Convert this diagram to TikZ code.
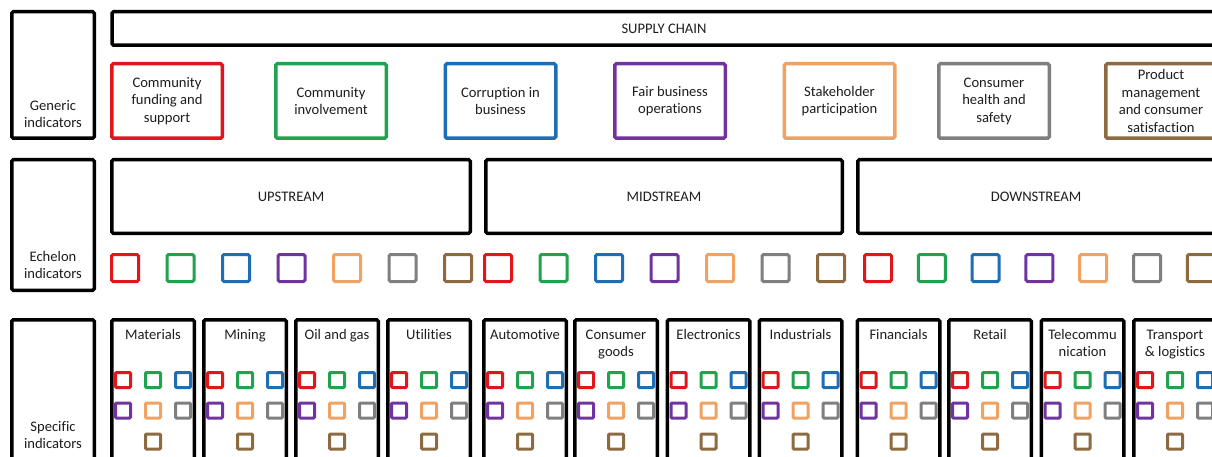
\documentclass[tikz,border=0pt]{standalone}
\usepackage{fontspec}
\setmainfont[Ligatures=NoCommon]{Carlito}
\definecolor{cred}{HTML}{E0161B}
\definecolor{cgreen}{HTML}{20A24E}
\definecolor{cblue}{HTML}{1E6EB6}
\definecolor{cpurple}{HTML}{7033A0}
\definecolor{corange}{HTML}{F0A262}
\definecolor{cgray}{HTML}{7F7F7F}
\definecolor{cbrown}{HTML}{8D6A40}
\definecolor{ctext}{HTML}{1E1E1E}
\begin{document}
\begin{tikzpicture}[x=1pt,y=-1pt,
  every node/.style={font=\fontsize{14.6}{17.5}\selectfont, align=center, inner sep=0pt, outer sep=0pt, text=ctext},
  blk/.style={draw=black, line width=3.5pt, rounded corners=1.5pt},
  genbx/.style={draw=#1, line width=3.5pt, rounded corners=1.5pt, minimum width=110.5pt, minimum height=74.5pt},
  esq/.style={draw=#1, line width=3pt, rounded corners=1.5pt, minimum size=27pt},
  ssq/.style={draw=#1, line width=3pt, rounded corners=1pt, minimum size=15pt},
  secbx/.style={blk, minimum width=82.5pt, minimum height=142.5pt},
  ttl/.style={anchor=north},
  lbl/.style={anchor=south}
]
\useasboundingbox (0,0) rectangle (1212,457);
\clip (0,0) rectangle (1212,457);
\fill[white] (0,0) rectangle (1212,457);

% left label boxes
\node[blk, minimum width=82.5pt, minimum height=126.5pt] (genL) at (53,75) {};
\node[lbl] (genT) at (53,128) {Generic\\indicators};
\node[blk, minimum width=82.5pt, minimum height=130.5pt] (echL) at (53,225) {};
\node[lbl] (echT) at (53,279) {Echelon\\indicators};
\node[blk, minimum width=82.5pt, minimum height=142.5pt] (speL) at (53,391) {};
\node[lbl] (speT) at (53,449) {Specific\\indicators};

% supply chain
\node[blk, minimum width=1104pt, minimum height=33.5pt] (sc) at (664,28.5) {SUPPLY CHAIN};

% generic indicators
\node[genbx=cred]    (g1) at (167,101)    {Community\\funding and\\support};
\node[genbx=cgreen]  (g2) at (331,101)    {Community\\involvement};
\node[genbx=cblue]   (g3) at (500.5,101)  {Corruption in\\business};
\node[genbx=cpurple] (g4) at (670,101)    {Fair business\\operations};
\node[genbx=corange] (g5) at (839.5,101)  {Stakeholder\\participation};
\node[genbx=cgray]   (g6) at (994,101)    {Consumer\\health and\\safety};
\node[genbx=cbrown]  (g7) at (1161,101)   {Product\\management\\and consumer\\satisfaction};

% echelons
\node[blk, minimum width=358.5pt, minimum height=73.5pt] (up) at (291,196.5) {UPSTREAM};
\node[blk, minimum width=356.5pt, minimum height=73.5pt] (mid) at (664,196.5) {MIDSTREAM};
\node[blk, minimum width=356.5pt, minimum height=73.5pt] (down) at (1036,196.5) {DOWNSTREAM};

\foreach \c [count=\i from 0] in {cred,cgreen,cblue,cpurple,corange,cgray,cbrown} {
  \node[esq=\c] (eu\i) at ({125+55.5*\i},268) {};
  \node[esq=\c] (em\i) at ({498+55.5*\i},268) {};
  \node[esq=\c] (ed\i) at ({878+53.8*\i},268) {};
}

% specific sectors
\foreach \x/\t [count=\i] in {153/Materials, 245/Mining, 337/Oil and gas, 429/Utilities,
   525/Automotive, 616/{Consumer\\goods}, 708.5/Electronics, 800.5/Industrials,
   898.5/Financials, 990/Retail, 1082.5/{Telecommu\\nication}, 1175/{Transport\\\& logistics}} {
  \node[secbx] (s\i) at (\x,391) {};
  \node[ttl] (t\i) at (\x,326.8) {\strut\t};
  \node[ssq=cred]    (s\i-1) at ({\x-30},380) {};
  \node[ssq=cgreen]  (s\i-2) at (\x,380) {};
  \node[ssq=cblue]   (s\i-3) at ({\x+30},380) {};
  \node[ssq=cpurple] (s\i-4) at ({\x-30},410.5) {};
  \node[ssq=corange] (s\i-5) at (\x,410.5) {};
  \node[ssq=cgray]   (s\i-6) at ({\x+30},410.5) {};
  \node[ssq=cbrown]  (s\i-7) at (\x,441.5) {};
}
\end{tikzpicture}
\end{document}
